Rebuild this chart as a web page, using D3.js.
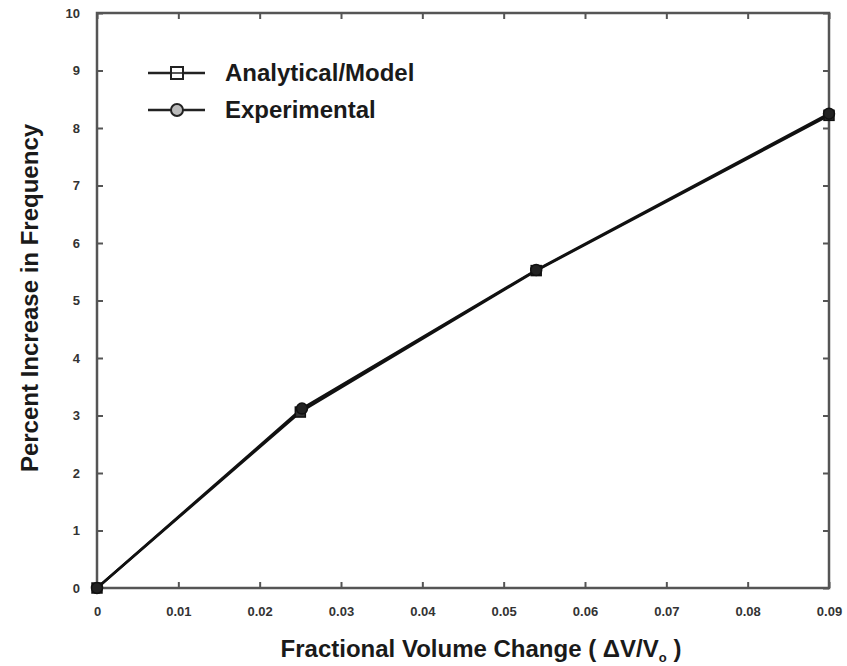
<!DOCTYPE html>
<html>
<head>
<meta charset="utf-8">
<script src="https://cdn.jsdelivr.net/npm/d3@7"></script>
<style>
  body { margin: 0; background: #fff; }
  svg { font-family: "Liberation Sans", Arial, sans-serif; }
</style>
</head>
<body>
<div id="chart"></div>
<script>
// datos
var xTicks = [0, 0.01, 0.02, 0.03, 0.04, 0.05, 0.06, 0.07, 0.08, 0.09];
var yTicks = [0, 1, 2, 3, 4, 5, 6, 7, 8, 9, 10];
var modelX = [0, 0.025, 0.054, 0.09];
var modelY = [0, 3.06, 5.52, 8.22];
var expX = [0, 0.0252, 0.054, 0.09];
var expY = [0, 3.12, 5.53, 8.25];
var seriesNames = ["Analytical/Model", "Experimental"];

var width = 847, height = 666;
var margin = {top: 13, right: 18, bottom: 78, left: 97};

var svg = d3.select("#chart").append("svg")
    .attr("width", width)
    .attr("height", height);

var x = d3.scaleLinear().domain([0, 0.09]).range([margin.left, width - margin.right]);
var y = d3.scaleLinear().domain([0, 10]).range([height - margin.bottom, margin.top]);

var axisColor = "#555";

// marco
svg.append("rect")
    .attr("x", x(0)).attr("y", y(10))
    .attr("width", x(0.09) - x(0)).attr("height", y(0) - y(10))
    .attr("fill", "none").attr("stroke", axisColor).attr("stroke-width", 2.5);

// ejes con ticks hacia dentro
var fmtX = function(d) { return d === 0 ? "0" : d3.format(".2f")(d); };
var xAxis = svg.append("g")
    .attr("transform", "translate(0," + y(0) + ")")
    .call(d3.axisBottom(x).tickValues(xTicks).tickSizeInner(-6).tickSizeOuter(0).tickPadding(19).tickFormat(fmtX));
var xTop = svg.append("g")
    .attr("transform", "translate(0," + y(10) + ")")
    .call(d3.axisTop(x).tickValues(xTicks).tickSizeInner(-6).tickSizeOuter(0).tickFormat(""));
var yAxis = svg.append("g")
    .attr("transform", "translate(" + x(0) + ",0)")
    .call(d3.axisLeft(y).tickValues(yTicks).tickSizeInner(-6).tickSizeOuter(0).tickPadding(17));
var yRight = svg.append("g")
    .attr("transform", "translate(" + x(0.09) + ",0)")
    .call(d3.axisRight(y).tickValues(yTicks).tickSizeInner(-6).tickSizeOuter(0).tickFormat(""));

[xAxis, xTop, yAxis, yRight].forEach(function(g) {
    g.select(".domain").remove();
    g.selectAll(".tick line").attr("stroke", axisColor).attr("stroke-width", 2);
    g.selectAll(".tick text")
        .attr("fill", "#333")
        .style("font-size", "13px")
        .style("font-weight", "bold");
});

// líneas
var line = d3.line().x(function(d) { return x(d[0]); }).y(function(d) { return y(d[1]); });
var modelData = modelX.map(function(v, i) { return [v, modelY[i]]; });
var expData = expX.map(function(v, i) { return [v, expY[i]]; });

svg.append("path").datum(modelData)
    .attr("d", line).attr("fill", "none").attr("stroke", "#111").attr("stroke-width", 2.5);
svg.append("path").datum(expData)
    .attr("d", line).attr("fill", "none").attr("stroke", "#111").attr("stroke-width", 2.5);

// marcadores
svg.selectAll(".sq").data(modelData).enter().append("rect")
    .attr("class", "sq")
    .attr("x", function(d) { return x(d[0]) - 5; })
    .attr("y", function(d) { return y(d[1]) - 5; })
    .attr("width", 10).attr("height", 10)
    .attr("fill", "#333").attr("stroke", "#111").attr("stroke-width", 1.5);
svg.selectAll(".ci").data(expData).enter().append("circle")
    .attr("class", "ci")
    .attr("cx", function(d) { return x(d[0]); })
    .attr("cy", function(d) { return y(d[1]); })
    .attr("r", 5.5)
    .attr("fill", "#222").attr("stroke", "#111").attr("stroke-width", 1.5);

// leyenda
var legend = svg.append("g");
seriesNames.forEach(function(name, i) {
    var ly = 73 + i * 37;
    legend.append("line")
        .attr("x1", 148).attr("x2", 205).attr("y1", ly).attr("y2", ly)
        .attr("stroke", "#222").attr("stroke-width", 2.5);
    if (i === 0) {
        legend.append("rect")
            .attr("x", 171).attr("y", ly - 6).attr("width", 12).attr("height", 12)
            .attr("fill", "#fff").attr("stroke", "#222").attr("stroke-width", 2);
        legend.append("line")
            .attr("x1", 171).attr("x2", 183).attr("y1", ly).attr("y2", ly)
            .attr("stroke", "#222").attr("stroke-width", 1.5);
    } else {
        legend.append("circle")
            .attr("cx", 177).attr("cy", ly).attr("r", 6)
            .attr("fill", "#bbb").attr("stroke", "#222").attr("stroke-width", 2);
    }
    legend.append("text")
        .attr("x", 225).attr("y", ly + 8)
        .style("font-size", "24px").style("font-weight", "bold")
        .attr("fill", "#1a1a1a")
        .text(name);
});

// títulos de ejes
var xt = svg.append("text")
    .attr("x", 481).attr("y", 657)
    .attr("text-anchor", "middle")
    .style("font-size", "24px").style("font-weight", "bold")
    .attr("fill", "#1a1a1a");
xt.append("tspan").text("Fractional Volume Change  ( \u0394V/V");
xt.append("tspan").attr("dy", 5).style("font-size", "13px").text("o");
xt.append("tspan").attr("dy", -5).text(" )");

svg.append("text")
    .attr("transform", "translate(38,298) rotate(-90)")
    .attr("text-anchor", "middle")
    .style("font-size", "24px").style("font-weight", "bold")
    .attr("fill", "#1a1a1a")
    .text("Percent Increase in Frequency");
</script>
</body>
</html>
